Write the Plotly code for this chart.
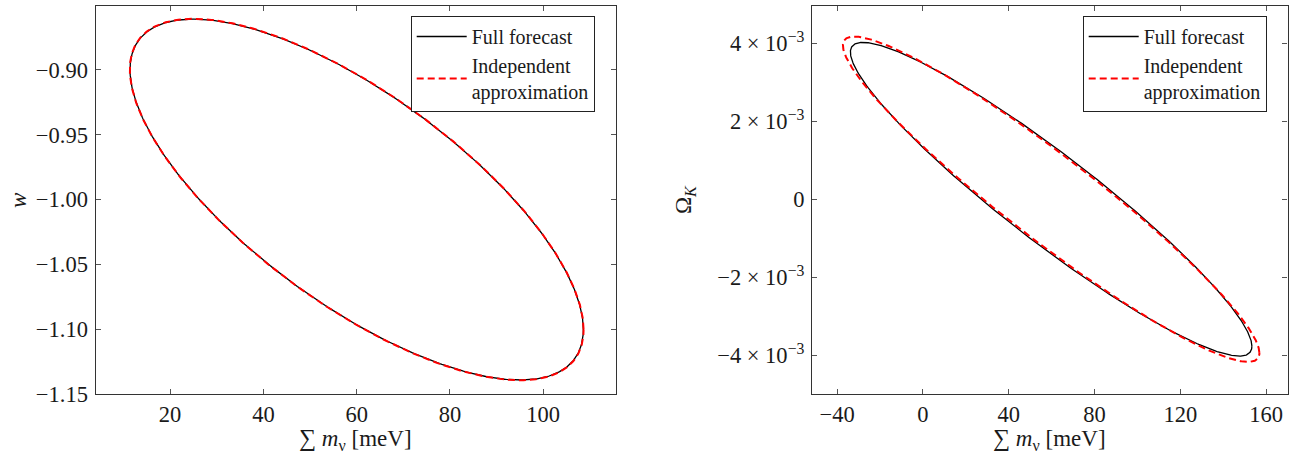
import numpy as np
import plotly.graph_objects as go

# ---- data (Fisher-forecast 1-sigma ellipses) ----
# left panel: sum m_nu [meV] vs w
left_center = [60.0, -1.0]
left_sigma_full = [48.6, 0.139]
left_rho_full = -0.72
left_sigma_ind = [48.65, 0.1392]
left_rho_ind = -0.72

# right panel: sum m_nu [meV] vs Omega_K
right_center = [59.8, 0.0]
right_sigma_full = [93.6, 4.02e-3]
right_rho_full = -0.937
right_sigma_ind = [97.1, 4.17e-3]
right_rho_ind = -0.945

series_names = ["Full forecast", "Independent<br>approximation"]

left_xticks = [20, 40, 60, 80, 100]
left_yticks = [-1.15, -1.10, -1.05, -1.00, -0.95, -0.90]
left_yticktext = ["\u22121.15", "\u22121.10", "\u22121.05", "\u22121.00", "\u22120.95", "\u22120.90"]
right_xticks = [-40, 0, 40, 80, 120, 160]
right_xticktext = ["\u221240", "0", "40", "80", "120", "160"]
right_yticks = [-4e-3, -2e-3, 0, 2e-3, 4e-3]
right_yticktext = ["\u22124 \u00d7 10<sup>\u22123</sup>", "\u22122 \u00d7 10<sup>\u22123</sup>", "0",
                   "2 \u00d7 10<sup>\u22123</sup>", "4 \u00d7 10<sup>\u22123</sup>"]


def ellipse(center, sigma, rho, n=600):
    t = np.linspace(0, 2 * np.pi, n)
    x = center[0] + sigma[0] * np.cos(t)
    y = center[1] + sigma[1] * (rho * np.cos(t) + np.sqrt(1 - rho ** 2) * np.sin(t))
    return x, y


W, H = 1294, 454
FONT = "Liberation Serif"
TXT = "#1a1a1a"
AX = "#333333"

fig = go.Figure()

panels = [
    ("x", "y", "legend", left_center, left_sigma_full, left_rho_full, left_sigma_ind, left_rho_ind),
    ("x2", "y2", "legend2", right_center, right_sigma_full, right_rho_full, right_sigma_ind, right_rho_ind),
]
for xa, ya, lg, c, sf, rf, si, ri in panels:
    x, y = ellipse(c, sf, rf)
    fig.add_trace(go.Scatter(x=x, y=y, mode="lines", name=series_names[0], xaxis=xa, yaxis=ya,
                             legend=lg, line=dict(color="black", width=1.3)))
    x, y = ellipse(c, si, ri)
    fig.add_trace(go.Scatter(x=x, y=y, mode="lines", name=series_names[1], xaxis=xa, yaxis=ya,
                             legend=lg, line=dict(color="#ff0000", width=2, dash="7px,4px")))

# plot-area pixel boxes
L = (95.5, 616.0)
R = (812.0, 1287.5)
TOP, BOT = 5.7, 394.3
ydom = [1 - BOT / H, 1 - TOP / H]

axis_common = dict(showline=True, linecolor=AX, linewidth=1.2, mirror="ticks", ticks="inside",
                   ticklen=5, tickwidth=1, tickcolor="#555555", showgrid=False, zeroline=False,
                   tickfont=dict(family=FONT, size=22.5, color=TXT), automargin=False)

legend_common = dict(yanchor="top", xanchor="left", bgcolor="white", bordercolor="#222222",
                     borderwidth=1, font=dict(family=FONT, size=20, color=TXT), itemwidth=50,
                     tracegroupgap=0)

fig.update_layout(
    width=W, height=H,
    margin=dict(l=0, r=0, t=0, b=0),
    paper_bgcolor="white", plot_bgcolor="white",
    font=dict(family=FONT, color=TXT),
    xaxis=dict(domain=[L[0] / W, L[1] / W], range=[4.0, 115.6], tickvals=left_xticks,
               ticklabelstandoff=0, anchor="y", **axis_common),
    yaxis=dict(domain=ydom, range=[-1.15, -0.8507], tickvals=left_yticks, ticktext=left_yticktext,
               ticklabelstandoff=2, anchor="x", **axis_common),
    xaxis2=dict(domain=[R[0] / W, R[1] / W], range=[-51.7, 170.0], tickvals=right_xticks,
                ticktext=right_xticktext, ticklabelstandoff=0, anchor="y2", **axis_common),
    yaxis2=dict(domain=ydom, range=[-5.0e-3, 4.96e-3], tickvals=right_yticks, ticktext=right_yticktext,
                ticklabelstandoff=2, anchor="x2", **axis_common),
    legend=dict(x=410.7 / W, y=1 - 16 / H, **legend_common),
    legend2=dict(x=1082.7 / W, y=1 - 16 / H, **legend_common),
    showlegend=True,
)

xt = "<span style='font-size:24px'>\u2211</span> <i>m</i><sub>\u03bd</sub> [meV]"
annots = [
    dict(text=xt, x=(L[0] + L[1]) / 2 / W, y=1 - 439 / H),
    dict(text=xt, x=(R[0] + R[1]) / 2 / W, y=1 - 439 / H),
    dict(text="<i>w</i>", x=18 / W, y=1 - 200 / H, textangle=-90),
    dict(text="\u03a9<sub><i>K</i></sub>", x=685 / W, y=1 - 200 / H, textangle=-90),
]
for a in annots:
    fig.add_annotation(xref="paper", yref="paper", showarrow=False, xanchor="center", yanchor="middle",
                       font=dict(family=FONT, size=23, color=TXT), **a)

fig.write_html("out.html", config={"displayModeBar": False},
               post_script="document.body.style.margin='0px';document.body.style.overflow='hidden';")
